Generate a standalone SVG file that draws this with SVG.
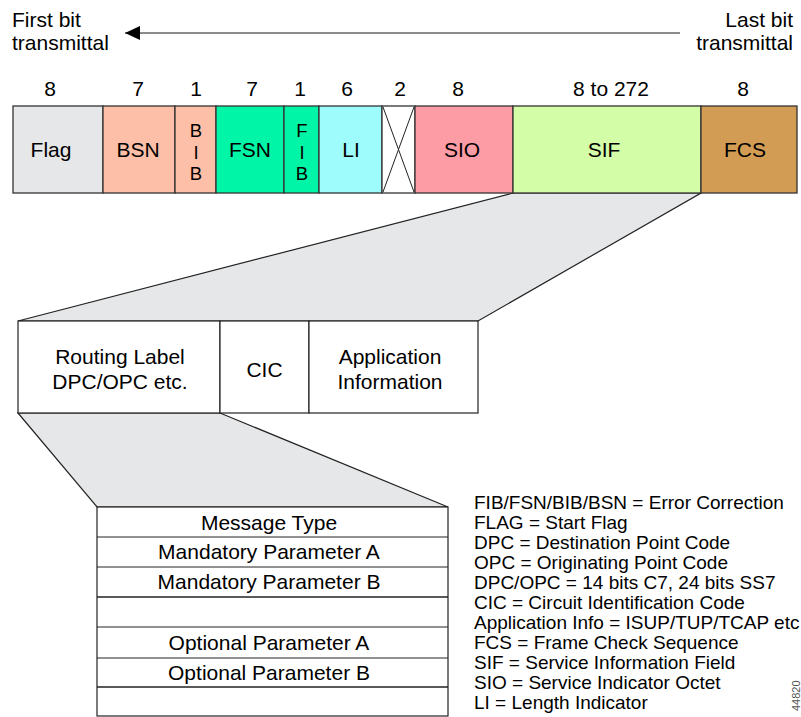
<svg xmlns="http://www.w3.org/2000/svg" width="801" height="717" viewBox="0 0 801 717">
<style>
text{font-family:"Liberation Sans",Arial,sans-serif;fill:#000}
.t{font-size:21px}
.v{font-size:18.5px;text-anchor:middle}
.c{text-anchor:middle}
.r{text-anchor:end}
.lg{font-size:19px}
.cell{stroke:#333;stroke-width:1.3}
.box{fill:#fff;stroke:#222;stroke-width:1.2}
.trap{fill:#e6e7e8;stroke:#222;stroke-width:1.2}
</style>
<defs>
<marker id="ah" markerWidth="15" markerHeight="14" refX="15" refY="7" orient="auto" markerUnits="userSpaceOnUse">
<path d="M0,0 L15,7 L0,14 z" fill="#000"/>
</marker>
</defs>
<rect width="801" height="717" fill="#fff"/>

<g id="header">
<text class="t" x="12" y="27">First bit</text>
<text class="t" x="12" y="50">transmittal</text>
<text class="t r" x="793" y="27">Last bit</text>
<text class="t r" x="793" y="50">transmittal</text>
</g>

<g id="connectors">
<line x1="680" y1="33" x2="125" y2="33" stroke="#666" stroke-width="1.5" marker-end="url(#ah)"/>
<polygon id="zoom-sif" class="trap" points="513,193 701,193 478,321 18,321"/>
<polygon id="zoom-routing" class="trap" points="18,413 220,413 448,507 97,507"/>
</g>

<g id="bit-counts">
<text class="t c" x="50" y="96">8</text>
<text class="t c" x="138" y="96">7</text>
<text class="t c" x="196" y="96">1</text>
<text class="t c" x="252" y="96">7</text>
<text class="t c" x="300" y="96">1</text>
<text class="t c" x="347" y="96">6</text>
<text class="t c" x="400" y="96">2</text>
<text class="t c" x="458" y="96">8</text>
<text class="t c" x="611" y="96">8 to 272</text>
<text class="t c" x="743" y="96">8</text>
</g>

<g id="flag"><rect class="cell" x="13" y="106" width="90" height="87" fill="#e6e7e8"/><text class="t c" x="51" y="157">Flag</text></g>
<g id="bsn"><rect class="cell" x="103" y="106" width="72" height="87" fill="#fdbfa7"/><text class="t c" x="138" y="157">BSN</text></g>
<g id="bib"><rect class="cell" x="175" y="106" width="41" height="87" fill="#fdbfa7"/><text class="v" x="196" y="137">B</text><text class="v" x="196" y="158.5">I</text><text class="v" x="196" y="180">B</text></g>
<g id="fsn"><rect class="cell" x="216" y="106" width="68" height="87" fill="#00f6a6"/><text class="t c" x="250" y="157">FSN</text></g>
<g id="fib"><rect class="cell" x="284" y="106" width="35" height="87" fill="#00f6a6"/><text class="v" x="302" y="137">F</text><text class="v" x="302" y="158.5">I</text><text class="v" x="302" y="180">B</text></g>
<g id="li"><rect class="cell" x="319" y="106" width="63" height="87" fill="#9ffcfd"/><text class="t c" x="351" y="157">LI</text></g>
<g id="spare"><rect class="cell" x="382" y="106" width="33" height="87" fill="#fff"/><path d="M383,107 L414,192 M414,107 L383,192" stroke="#222" stroke-width="1"/></g>
<g id="sio"><rect class="cell" x="415" y="106" width="98" height="87" fill="#fe9ca5"/><text class="t c" x="462" y="157">SIO</text></g>
<g id="sif"><rect class="cell" x="513" y="106" width="188" height="87" fill="#d4fda7"/><text class="t c" x="604" y="157">SIF</text></g>
<g id="fcs"><rect class="cell" x="701" y="106" width="96" height="87" fill="#d39c54"/><text class="t c" x="745" y="157">FCS</text></g>

<g id="routing-label"><rect class="box" x="18" y="321" width="202" height="92"/><text class="t c" x="120" y="364">Routing Label</text><text class="t c" x="120" y="389">DPC/OPC etc.</text></g>
<g id="cic"><rect class="box" x="220" y="321" width="89" height="92"/><text class="t c" x="264.5" y="377">CIC</text></g>
<g id="app-info"><rect class="box" x="309" y="321" width="169" height="92"/><text class="t c" x="390" y="364">Application</text><text class="t c" x="390" y="389">Information</text></g>

<g id="message">
<rect class="box" x="97" y="507" width="351" height="209"/>
<line x1="97" y1="537" x2="448" y2="537" stroke="#222" stroke-width="1"/>
<line x1="97" y1="567" x2="448" y2="567" stroke="#222" stroke-width="1"/>
<line x1="97" y1="597" x2="448" y2="597" stroke="#222" stroke-width="1.5"/>
<line x1="97" y1="627" x2="448" y2="627" stroke="#222" stroke-width="1"/>
<line x1="97" y1="658" x2="448" y2="658" stroke="#222" stroke-width="1"/>
<line x1="97" y1="687" x2="448" y2="687" stroke="#222" stroke-width="1.5"/>
<text class="t c" x="269" y="530">Message Type</text>
<text class="t c" x="269" y="559">Mandatory Parameter A</text>
<text class="t c" x="269" y="589">Mandatory Parameter B</text>
<text class="t c" x="269" y="650">Optional Parameter A</text>
<text class="t c" x="269" y="680">Optional Parameter B</text>
</g>

<g id="legend">
<text class="lg" x="474" y="509">FIB/FSN/BIB/BSN = Error Correction</text>
<text class="lg" x="474" y="529">FLAG = Start Flag</text>
<text class="lg" x="474" y="549">DPC = Destination Point Code</text>
<text class="lg" x="474" y="569">OPC = Originating Point Code</text>
<text class="lg" x="474" y="589">DPC/OPC = 14 bits C7, 24 bits SS7</text>
<text class="lg" x="474" y="609">CIC = Circuit Identification Code</text>
<text class="lg" x="474" y="629">Application Info = ISUP/TUP/TCAP etc</text>
<text class="lg" x="474" y="649">FCS = Frame Check Sequence</text>
<text class="lg" x="474" y="669">SIF = Service Information Field</text>
<text class="lg" x="474" y="689">SIO = Service Indicator Octet</text>
<text class="lg" x="474" y="709">LI = Length Indicator</text>
</g>

<text x="800" y="711" transform="rotate(-90 800 711)" style="font-size:11px;fill:#555">44820</text>
</svg>
